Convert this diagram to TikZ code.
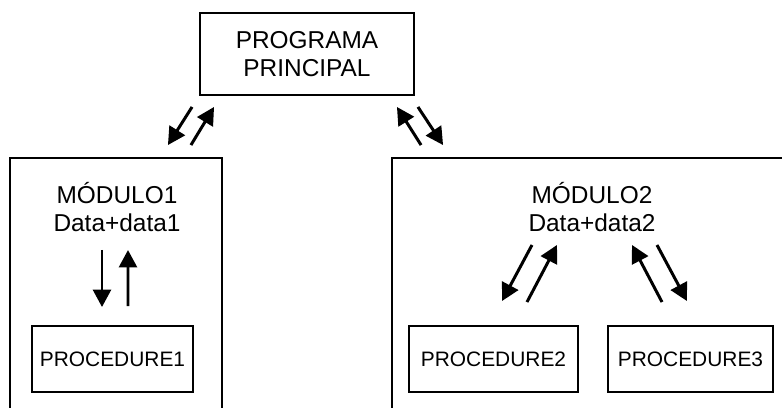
\documentclass[tikz,border=0pt]{standalone}
\usepackage{fontspec}
\setmainfont{Liberation Sans}
\usetikzlibrary{arrows.meta}

\begin{document}
\begin{tikzpicture}[x=0.02cm,y=-0.02cm,>={Triangle[length=0.35cm,width=0.36cm]},
  box/.style={draw,line width=1.1pt,inner sep=0pt},
  flow/.style={->,line width=1.7pt},
  big/.style={font=\fontsize{13.9}{15.9}\selectfont,align=center,inner sep=0pt},
  small/.style={font=\fontsize{11.9}{14}\selectfont}]
\clip (0,0) rectangle (782,408);
\node[box,big,minimum width=4.28cm,minimum height=1.64cm] (prog) at (307,54) {PROGRAMA\\PRINCIPAL};
%
\node[box,minimum width=4.24cm,minimum height=5.64cm] (m1) at (116,299) {};
\node[box,minimum width=8.16cm,minimum height=5.64cm] (m2) at (596,299) {};
\node[big] (l1) at (117,207) {MÓDULO1\\Data+data1};
\node[big] (l2) at (592,207) {MÓDULO2\\Data+data2};
%
\node[box,small,minimum width=3.22cm,minimum height=1.32cm] (p1) at (112.5,359) {PROCEDURE1};
\node[box,small,minimum width=3.38cm,minimum height=1.32cm] (p2) at (493.5,359) {PROCEDURE2};
\node[box,small,minimum width=3.30cm,minimum height=1.32cm] (p3) at (690.5,359) {PROCEDURE3};
%
\draw[flow] ([shift={(-7,11)}]prog.south west) -- ([shift={(-55,-12)}]m1.north east);
\draw[flow] ([shift={(-32,-12)}]m1.north east) -- ([shift={(15,11)}]prog.south west);
\draw[flow] ([shift={(30,-12)}]m2.north west) -- ([shift={(-18,11)}]prog.south east);
\draw[flow] ([shift={(3,11)}]prog.south east) -- ([shift={(52,-12)}]m2.north west);
%
\draw[flow] ([shift={(-15,43)}]l1.center) -- ([shift={(-10.5,-18)}]p1.north);
\draw[flow] ([shift={(15.5,-19)}]p1.north) -- ([shift={(11,43)}]l1.center);
%
\draw[flow] ([shift={(-60,38)}]l2.center) -- ([shift={(8.5,-24)}]p2.north);
\draw[flow] ([shift={(33.5,-23)}]p2.north) -- ([shift={(-35,38)}]l2.center);
\draw[flow] ([shift={(-28.5,-23)}]p3.north) -- ([shift={(40,38)}]l2.center);
\draw[flow] ([shift={(65,38)}]l2.center) -- ([shift={(-3.5,-24)}]p3.north);
\end{tikzpicture}
\end{document}
